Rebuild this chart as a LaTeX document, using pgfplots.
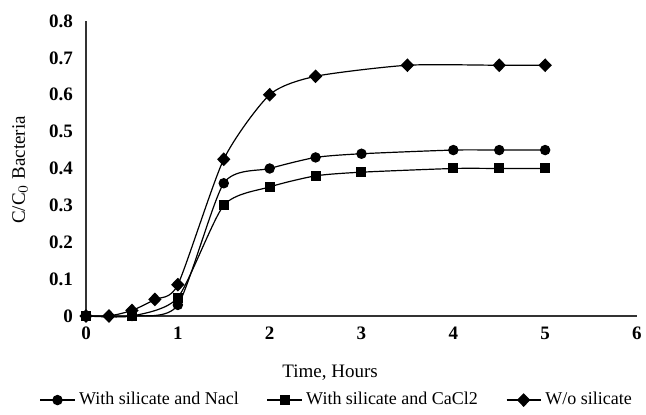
\documentclass[border=0pt]{standalone}
\usepackage{pgfplots}
\pgfplotsset{compat=1.18}
\usepackage{fontspec}
\setmainfont{Liberation Serif}
\begin{document}
\begin{tikzpicture}
\path[use as bounding box] (-43pt,-49.5pt) rectangle (280pt,158pt);
\begin{axis}[
  scale only axis,
  width=275.5pt, height=147.5pt,
  xmin=0, xmax=6, ymin=0, ymax=0.8,
  axis x line=bottom, axis y line=left,
  axis line style={-, black!80, line width=0.6pt},
  xtick={0,1,...,6}, ytick={0,0.1,...,0.8},
  major tick length=0pt,
  /pgf/number format/assume math mode=true,
  yticklabel style={font=\fontsize{9.5}{10}\selectfont\bfseries, xshift=-3pt, /pgf/number format/fixed, /pgf/number format/precision=1},
  xticklabel style={font=\fontsize{9.5}{10}\selectfont\bfseries, yshift=-2pt},
  xlabel={Time, Hours},
  ylabel={C/C$_0$ Bacteria},
  xlabel style={font=\fontsize{9.5}{10}\selectfont, at={(rel axis cs:0.443,-0.193)}, anchor=center},
  ylabel style={font=\fontsize{9.5}{10}\selectfont, at={(rel axis cs:-0.12,0.495)}, anchor=center},
  legend columns=3,
  legend style={at={(0.457,-0.285)}, anchor=center, draw=none, font=\fontsize{9}{10}\selectfont,
    /tikz/every even column/.append style={column sep=12pt}},
  legend cell align=left,
  clip=false,
]
\addplot[black, line width=0.6pt, smooth, tension=0.4, mark=*, mark size=2.3pt] coordinates {
(0,0) (0.5,0) (1,0.03) (1.5,0.36) (2,0.4) (2.5,0.43) (3,0.44) (4,0.45) (4.5,0.45) (5,0.45)};
\addlegendentry{With silicate and Nacl}
\addplot[black, line width=0.6pt, smooth, tension=0.4, mark=square*, mark size=2.2pt] coordinates {
(0,0) (0.5,0) (1,0.05) (1.5,0.3) (2,0.35) (2.5,0.38) (3,0.39) (4,0.40) (4.5,0.40) (5,0.40)};
\addlegendentry{With silicate and CaCl2}
\addplot[black, line width=0.6pt, smooth, tension=0.4, mark=diamond*, mark size=3pt, mark options={xscale=1.3}] coordinates {
(0,0) (0.25,0) (0.5,0.015) (0.75,0.045) (1,0.085) (1.5,0.425) (2,0.6) (2.5,0.65) (3.5,0.68) (4.5,0.68) (5,0.68)};
\addlegendentry{W/o silicate}
\end{axis}
\end{tikzpicture}
\end{document}
